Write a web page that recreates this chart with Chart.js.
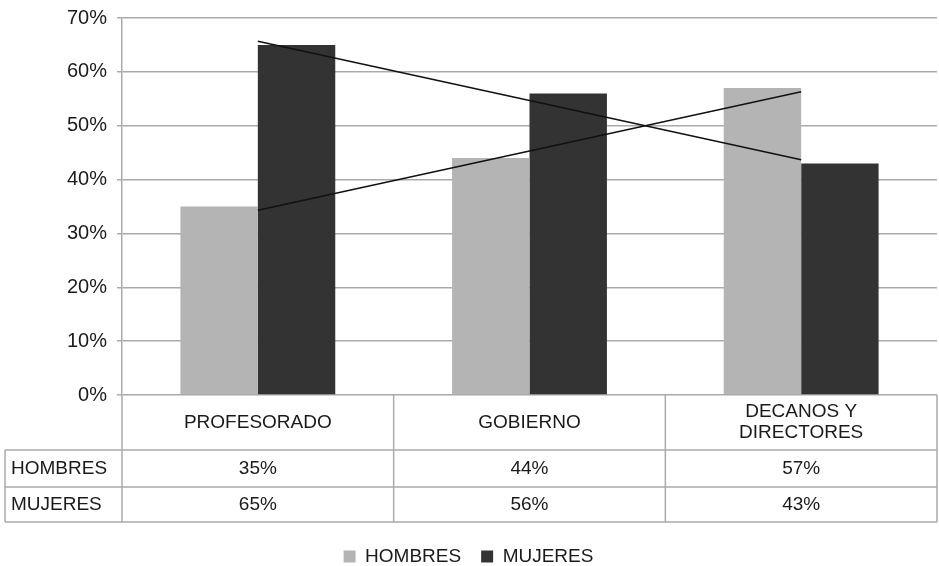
<!DOCTYPE html>
<html>
<head>
<meta charset="utf-8">
<script src="https://cdn.jsdelivr.net/npm/chart.js@4"></script>
<style>
  html, body { margin: 0; padding: 0; background: #fff; }
  #wrap { width: 939px; height: 566px; position: relative; }
</style>
</head>
<body>
<div id="wrap"><canvas id="chart"></canvas></div>
<script>
// categories and series
const categories = ['PROFESORADO', 'GOBIERNO', ['DECANOS Y', 'DIRECTORES']];
const hombres = [35, 44, 57];
const mujeres = [65, 56, 43];
// linear trend lines as drawn in the picture
const hombresTrend = [34.3, 45.3, 56.3];
const mujeresTrend = [65.7, 54.7, 43.7];
const yTicks = [0, 10, 20, 30, 40, 50, 60, 70];

const gridColor = '#aaaaaa';
const textColor = '#1a1a1a';
const font = 'Liberation Sans';

// draws the data table under the plot, using the x scale for column edges
const dataTable = {
  id: 'dataTable',
  afterDraw(chart) {
    const ctx = chart.ctx;
    const area = chart.chartArea;
    const x = chart.scales.x;
    const colW = (area.right - area.left) / categories.length;
    const top = area.bottom;
    const catBottom = top + 55;
    const row1Bottom = catBottom + 37;
    const row2Bottom = row1Bottom + 35;
    const tableLeft = 5;

    ctx.save();
    ctx.strokeStyle = gridColor;
    ctx.lineWidth = 1.5;
    ctx.beginPath();
    // horizontal lines
    [catBottom, row1Bottom, row2Bottom].forEach(function(y) {
      ctx.moveTo(tableLeft, y);
      ctx.lineTo(area.right, y);
    });
    // column edges
    for (let i = 0; i <= categories.length; i++) {
      const cx = area.left + i * colW;
      ctx.moveTo(cx, top);
      ctx.lineTo(cx, row2Bottom);
    }
    ctx.moveTo(tableLeft, catBottom);
    ctx.lineTo(tableLeft, row2Bottom);
    ctx.stroke();

    ctx.fillStyle = textColor;
    ctx.font = '19px "' + font + '"';
    ctx.textBaseline = 'middle';
    ctx.textAlign = 'center';
    categories.forEach(function(cat, i) {
      const cx = x.getPixelForValue(i);
      const lines = Array.isArray(cat) ? cat : [cat];
      const midY = (top + catBottom) / 2;
      lines.forEach(function(l, j) {
        ctx.fillText(l, cx, midY + (j - (lines.length - 1) / 2) * 21);
      });
      ctx.fillText(hombres[i] + '%', cx, (catBottom + row1Bottom) / 2);
      ctx.fillText(mujeres[i] + '%', cx, (row1Bottom + row2Bottom) / 2);
    });
    ctx.textAlign = 'left';
    ctx.fillText('HOMBRES', tableLeft + 6, (catBottom + row1Bottom) / 2);
    ctx.fillText('MUJERES', tableLeft + 6, (row1Bottom + row2Bottom) / 2);
    ctx.restore();
  }
};

window.onload = function() {
  const ctx = document.getElementById('chart').getContext('2d');

  const config = {
    type: 'bar',
    data: {
      labels: categories,
      datasets: [
        {
          type: 'line',
          label: 'trend hombres',
          data: hombresTrend,
          borderColor: '#111111',
          borderWidth: 1.5,
          pointRadius: 0,
          fill: false,
          order: 0
        },
        {
          type: 'line',
          label: 'trend mujeres',
          data: mujeresTrend,
          borderColor: '#111111',
          borderWidth: 1.5,
          pointRadius: 0,
          fill: false,
          order: 0
        },
        {
          label: 'HOMBRES',
          data: hombres,
          backgroundColor: '#b4b4b4',
          categoryPercentage: 0.57,
          barPercentage: 1.0,
          order: 1
        },
        {
          label: 'MUJERES',
          data: mujeres,
          backgroundColor: '#333333',
          categoryPercentage: 0.57,
          barPercentage: 1.0,
          order: 1
        }
      ]
    },
    options: {
      responsive: true,
      maintainAspectRatio: false,
      animation: false,
      layout: {
        padding: { top: 18, right: 2, left: 0, bottom: -10 }
      },
      plugins: {
        tooltip: { enabled: false },
        legend: {
          position: 'bottom',
          labels: {
            filter: function(item) { return item.text.indexOf('trend') !== 0; },
            boxWidth: 12,
            boxHeight: 12,
            padding: 20,
            color: textColor,
            font: { family: font, size: 19 }
          }
        }
      },
      scales: {
        x: {
          ticks: { display: false },
          grid: { display: false },
          border: { display: false },
          afterFit: function(scale) { scale.height = 132; }
        },
        y: {
          min: 0,
          max: 70,
          afterBuildTicks: function(scale) {
            scale.ticks = yTicks.map(function(v) { return { value: v }; });
          },
          afterFit: function(scale) {
            scale.width = 122;
            scale.paddingTop = 0;
            scale.paddingBottom = 0;
          },
          ticks: {
            callback: function(v) { return v + '%'; },
            color: textColor,
            padding: 10,
            font: { family: font, size: 20 }
          },
          grid: { color: gridColor, lineWidth: 1.5, tickLength: 5 },
          border: { color: gridColor, width: 1.5 }
        }
      }
    },
    plugins: [dataTable]
  };

  new Chart(ctx, config);
};
</script>
</body>
</html>
